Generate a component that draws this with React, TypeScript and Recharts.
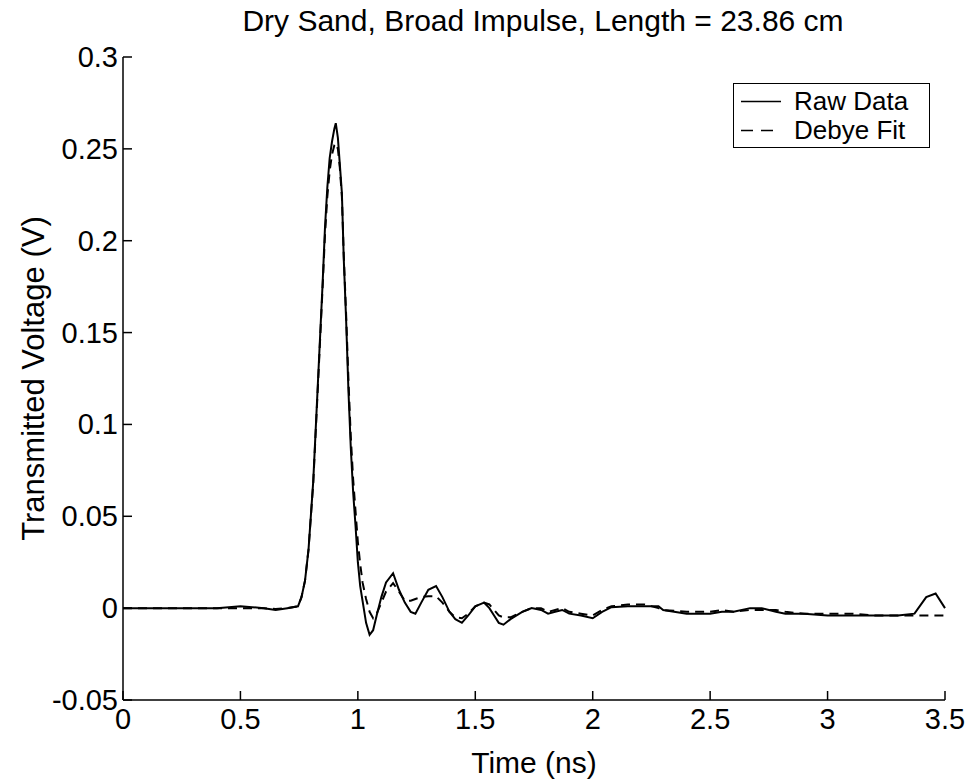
import { Line, LineChart, XAxis, YAxis } from 'recharts';

const times = [
    0, 0.1, 0.2, 0.3, 0.4, 0.45, 0.5, 0.55, 0.6, 0.65,
    0.7, 0.745, 0.76, 0.775, 0.79, 0.81, 0.83, 0.85, 0.86, 0.87,
    0.88, 0.89, 0.9, 0.906, 0.915, 0.923, 0.932, 0.94, 0.95, 0.96,
    0.97, 0.98, 0.99, 1.0, 1.01, 1.02, 1.035, 1.05, 1.065, 1.08,
    1.1, 1.12, 1.15, 1.175, 1.2, 1.225, 1.245, 1.27, 1.3, 1.333,
    1.36, 1.39, 1.415, 1.443, 1.47, 1.5, 1.537, 1.56, 1.58, 1.6,
    1.62, 1.65, 1.7, 1.74, 1.78, 1.81, 1.84, 1.87, 1.9, 1.95,
    2.0, 2.04, 2.08, 2.15, 2.22, 2.28, 2.3, 2.4, 2.5, 2.55,
    2.6, 2.67, 2.72, 2.78, 2.82, 2.9, 3.0, 3.1, 3.2, 3.3,
    3.37, 3.42, 3.46, 3.5
];

const rawData = [
    0, 0, 0, 0, 0, 0.0005, 0.001, 0.0005, 0, -0.001,
    0, 0.001, 0.006, 0.015, 0.032, 0.069, 0.123, 0.177, 0.207, 0.229,
    0.245, 0.254, 0.261, 0.264, 0.256, 0.242, 0.226, 0.19, 0.157, 0.118,
    0.087, 0.063, 0.045, 0.025, 0.012, 0.004, -0.008, -0.0145, -0.012, -0.004,
    0.006, 0.014, 0.019, 0.01, 0.003, -0.002, -0.003, 0.003, 0.01, 0.012,
    0.006, -0.002, -0.006, -0.008, -0.004, 0.001, 0.003, 0, -0.004, -0.008,
    -0.009, -0.006, -0.002, 0, -0.001, -0.003, -0.002, -0.001, -0.003, -0.004,
    -0.0055, -0.002, 0.0005, 0.001, 0.001, 0.001, -0.001, -0.003, -0.003, -0.002,
    -0.002, 0, 0, -0.002, -0.003, -0.003, -0.004, -0.004, -0.004, -0.004,
    -0.003, 0.006, 0.008, 0
];

const debyeFit = [
    0, 0, 0, 0, 0, 0, 0, 0, 0, -0.0005,
    0, 0.001, 0.006, 0.015, 0.032, 0.068, 0.121, 0.175, 0.203, 0.224,
    0.238, 0.247, 0.252, 0.253, 0.25, 0.24, 0.224, 0.192, 0.16, 0.124,
    0.093, 0.07, 0.053, 0.036, 0.024, 0.014, 0.005, -0.002, -0.0055, -0.003,
    0.003, 0.009, 0.0136, 0.009, 0.004, 0.004, 0.005, 0.006, 0.0065, 0.0065,
    0.003, -0.002, -0.005, -0.0055, -0.003, 0.001, 0.003, 0.002, -0.001, -0.004,
    -0.005, -0.005, -0.002, 0, 0, -0.002, -0.001, 0, -0.002, -0.003,
    -0.004, -0.001, 0.001, 0.002, 0.002, 0, -0.001, -0.002, -0.002, -0.001,
    -0.002, -0.001, -0.001, -0.001, -0.002, -0.003, -0.003, -0.003, -0.004, -0.004,
    -0.004, -0.004, -0.004, -0.004
];

const xTicks = [0, 0.5, 1, 1.5, 2, 2.5, 3, 3.5];
const yTicks = [-0.05, 0, 0.05, 0.1, 0.15, 0.2, 0.25, 0.3];

const rows = times.map((t, i) => ({ t, raw: rawData[i], fit: debyeFit[i] }));

const FONT = '"Liberation Sans", Arial, Helvetica, sans-serif';
const TICK_LEN = 9;

function BottomTick({ x, y, payload }: any) {
    return (
        <g>
            <line x1={x} y1={y} x2={x} y2={y - TICK_LEN} stroke="#000" strokeWidth={1.5} />
            <text x={x} y={y + 29} textAnchor="middle" fontSize={29} fontFamily={FONT} fill="#000">
                {String(payload.value)}
            </text>
        </g>
    );
}

function LeftTick({ x, y, payload }: any) {
    return (
        <g>
            <line x1={x} y1={y} x2={x + TICK_LEN} y2={y} stroke="#000" strokeWidth={1.5} />
            <text x={x - 5} y={y + 10} textAnchor="end" fontSize={29} fontFamily={FONT} fill="#000">
                {String(payload.value)}
            </text>
        </g>
    );
}

function TopTick({ x, y }: any) {
    return <line x1={x} y1={y} x2={x} y2={y + TICK_LEN} stroke="#000" strokeWidth={1.5} />;
}

function RightTick({ x, y }: any) {
    return <line x1={x} y1={y} x2={x - TICK_LEN} y2={y} stroke="#000" strokeWidth={1.5} />;
}

function XLabel({ viewBox }: any) {
    const { x, y, width } = viewBox;
    return (
        <text x={x + width / 2} y={y + 73} textAnchor="middle" fontSize={30} fontFamily={FONT} fill="#000">
            Time (ns)
        </text>
    );
}

function YLabel({ viewBox }: any) {
    const { y, height } = viewBox;
    return (
        <text
            transform={`translate(33,${y + height / 2}) rotate(-90)`}
            textAnchor="middle"
            dominantBaseline="central"
            fontSize={31}
            fontFamily={FONT}
            fill="#000"
        >
            Transmitted Voltage (V)
        </text>
    );
}

function LegendBox() {
    const text = { position: 'absolute', left: 60, fontSize: 26, lineHeight: '21px', whiteSpace: 'nowrap' } as const;
    return (
        <div
            style={{
                position: 'absolute',
                left: 733,
                top: 83,
                width: 197,
                height: 65,
                boxSizing: 'border-box',
                border: '1.5px solid #000',
                background: '#fff',
                fontFamily: FONT,
                color: '#000'
            }}
        >
            <svg width={56} height={60} style={{ position: 'absolute', left: 0, top: 0 }}>
                <line x1={7} y1={17.5} x2={47} y2={17.5} stroke="#000" strokeWidth={1.5} />
                <line x1={7} y1={46.5} x2={47} y2={46.5} stroke="#000" strokeWidth={1.5} strokeDasharray="12 8" />
            </svg>
            <div style={{ ...text, top: 7 }}>Raw Data</div>
            <div style={{ ...text, top: 36 }}>Debye Fit</div>
        </div>
    );
}

export default function App() {
    return (
        <div style={{ position: 'absolute', left: 0, top: 0, width: 974, height: 782, background: '#fff' }}>
            <div
                style={{
                    position: 'absolute',
                    left: 123,
                    width: 840,
                    top: 4,
                    textAlign: 'center',
                    fontFamily: FONT,
                    fontSize: 30,
                    lineHeight: '34px',
                    color: '#000'
                }}
            >
                Dry Sand, Broad Impulse, Length = 23.86 cm
            </div>
            <LineChart width={974} height={782} data={rows} margin={{ top: 57, right: 29, left: 0, bottom: 0 }}>
                <XAxis
                    dataKey="t"
                    type="number"
                    domain={[0, 3.5]}
                    ticks={xTicks}
                    height={82}
                    tickSize={0}
                    tickMargin={0}
                    tickLine={false}
                    axisLine={{ stroke: '#000', strokeWidth: 1.5 }}
                    tick={<BottomTick />}
                    label={<XLabel />}
                    interval={0}
                />
                <XAxis
                    xAxisId="top"
                    orientation="top"
                    type="number"
                    domain={[0, 3.5]}
                    ticks={xTicks}
                    height={0}
                    tickSize={0}
                    tickMargin={0}
                    tickLine={false}
                    axisLine={{ stroke: '#000', strokeWidth: 1.5 }}
                    tick={<TopTick />}
                    interval={0}
                />
                <YAxis
                    type="number"
                    domain={[-0.05, 0.3]}
                    ticks={yTicks}
                    width={123}
                    tickSize={0}
                    tickMargin={0}
                    tickLine={false}
                    axisLine={{ stroke: '#000', strokeWidth: 1.5 }}
                    tick={<LeftTick />}
                    label={<YLabel />}
                    interval={0}
                    allowDataOverflow
                />
                <YAxis
                    yAxisId="right"
                    orientation="right"
                    type="number"
                    domain={[-0.05, 0.3]}
                    ticks={yTicks}
                    width={0}
                    tickSize={0}
                    tickMargin={0}
                    tickLine={false}
                    axisLine={{ stroke: '#000', strokeWidth: 1.5 }}
                    tick={<RightTick />}
                    interval={0}
                />
                <Line
                    dataKey="raw"
                    name="Raw Data"
                    stroke="#000"
                    strokeWidth={2}
                    dot={false}
                    type="linear"
                    isAnimationActive={false}
                />
                <Line
                    dataKey="fit"
                    name="Debye Fit"
                    stroke="#000"
                    strokeWidth={2}
                    strokeDasharray="9 6"
                    dot={false}
                    type="linear"
                    isAnimationActive={false}
                />
            </LineChart>
            <LegendBox />
        </div>
    );
}
